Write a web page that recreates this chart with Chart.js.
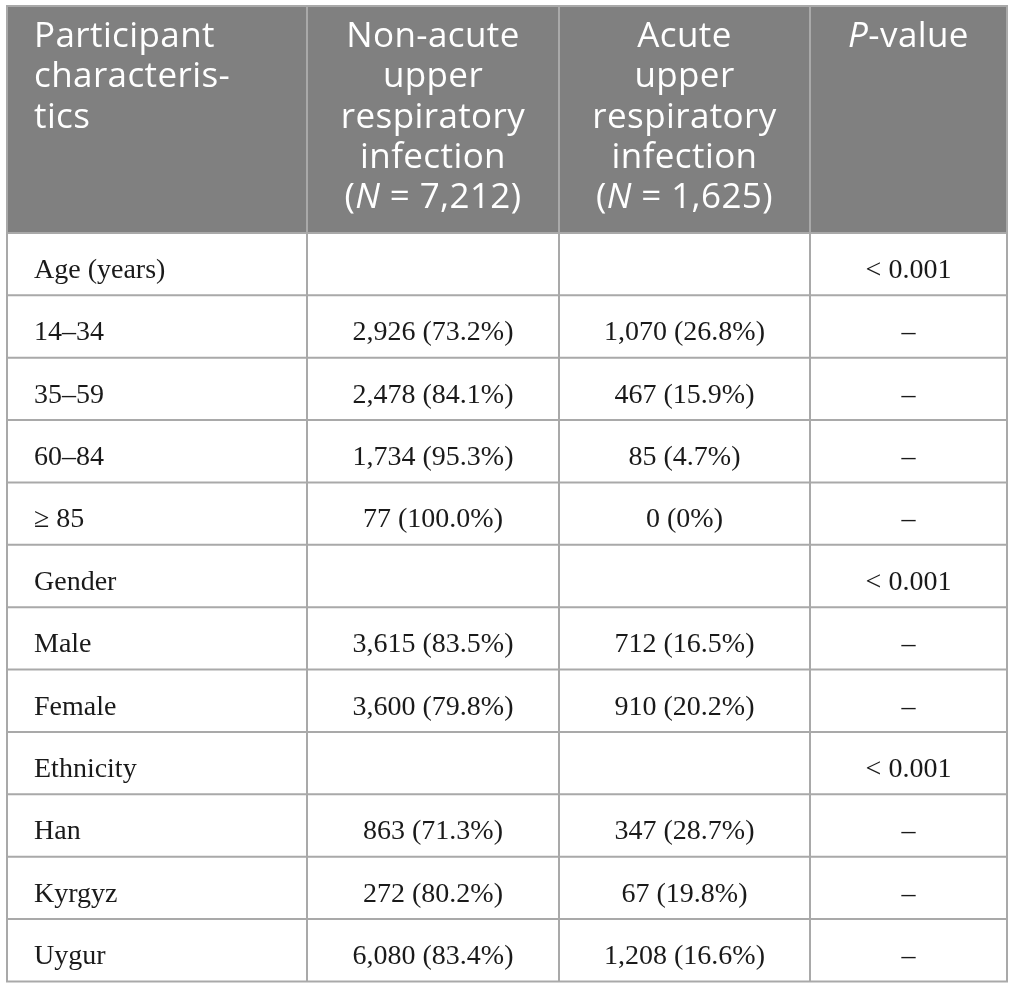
<!DOCTYPE html>
<html>
<head>
<meta charset="utf-8">
<script src="https://cdn.jsdelivr.net/npm/chart.js@4.4.1/dist/chart.umd.min.js"></script>
<style>
  html, body { margin: 0; padding: 0; background: #fff; }
  #wrap { width: 1015px; height: 988px; }
</style>
</head>
<body>
<div id="wrap"><canvas id="table-chart" width="1015" height="988"></canvas></div>
<script>
// table data
const categories = ["Age (years)", "14–34", "35–59", "60–84", "≥ 85", "Gender", "Male", "Female", "Ethnicity", "Han", "Kyrgyz", "Uygur"];
const nonAcuteN   = [null, 2926, 2478, 1734, 77,  null, 3615, 3600, null, 863,  272,  6080];
const nonAcutePct = [null, 73.2, 84.1, 95.3, 100.0, null, 83.5, 79.8, null, 71.3, 80.2, 83.4];
const acuteN      = [null, 1070, 467,  85,   0,   null, 712,  910,  null, 347,  67,   1208];
const acutePct    = [null, 26.8, 15.9, 4.7,  0,   null, 16.5, 20.2, null, 28.7, 19.8, 16.6];
const pValues     = ["< 0.001", "–", "–", "–", "–", "< 0.001", "–", "–", "< 0.001", "–", "–", "–"];
const nonAcuteTotal = 7212;
const acuteTotal = 1625;

// layout (in scale units)
const colEdges = [7, 307, 559, 810, 1007];
const tableTop = 6;
const headerBottom = 233;
const rowH = 62.37;

const fmtNum = v => v.toLocaleString('en-US');
const fmtPct = p => p === 0 ? '0%' : p.toFixed(1) + '%';
const cellText = (n, p) => n === null ? '' : fmtNum(n) + ' (' + fmtPct(p) + ')';

// header lines: each line is a list of [text, italic]
const headers = [
  [[["Participant", false]], [["characteris-", false]], [["tics", false]]],
  [[["Non-acute", false]], [["upper", false]], [["respiratory", false]], [["infection", false]],
   [["(", false], ["N", true], [" = " + fmtNum(nonAcuteTotal) + ")", false]]],
  [[["Acute", false]], [["upper", false]], [["respiratory", false]], [["infection", false]],
   [["(", false], ["N", true], [" = " + fmtNum(acuteTotal) + ")", false]]],
  [[["P", true], ["-value", false]]]
];

const headFont = (it) => (it ? 'italic ' : '') + '35px "Open Sans"';
const bodyFont = '28px "Liberation Serif"';

const tablePlugin = {
  id: 'tableDraw',
  afterDraw(chart) {
    const ctx = chart.ctx;
    const xs = chart.scales.x, ys = chart.scales.y;
    const X = v => xs.getPixelForValue(v);
    const Y = v => ys.getPixelForValue(v);
    const nRows = categories.length;
    const rowEdges = [headerBottom];
    for (let i = 1; i <= nRows; i++) rowEdges.push(headerBottom + i * rowH);
    const left = X(colEdges[0]), right = X(colEdges[colEdges.length - 1]);
    const top = Y(tableTop), bottom = Y(rowEdges[nRows]);

    ctx.save();
    // header background
    ctx.fillStyle = '#808080';
    ctx.fillRect(left, top, right - left, Y(headerBottom) - top);
    ctx.fillStyle = '#ffffff';
    ctx.fillRect(left, Y(headerBottom), right - left, bottom - Y(headerBottom));

    // header text
    ctx.fillStyle = '#ffffff';
    ctx.textBaseline = 'alphabetic';
    ctx.letterSpacing = '0.4px';
    headers.forEach((lines, c) => {
      const x0 = X(colEdges[c]), x1 = X(colEdges[c + 1]);
      lines.forEach((segs, li) => {
        const base = Y(tableTop + 41 + li * 40.3);
        let w = 0;
        segs.forEach(([t, it]) => { ctx.font = headFont(it); w += ctx.measureText(t).width; });
        let x = c === 0 ? X(34) : (x0 + x1) / 2 - w / 2;
        ctx.textAlign = 'left';
        segs.forEach(([t, it]) => {
          ctx.font = headFont(it);
          ctx.fillText(t, x, base);
          x += ctx.measureText(t).width;
        });
      });
    });
    ctx.letterSpacing = '0px';

    // body text
    ctx.fillStyle = '#1a1a1a';
    ctx.font = bodyFont;
    for (let r = 0; r < nRows; r++) {
      const base = Y(rowEdges[r] + 45);
      const cols = [categories[r], cellText(nonAcuteN[r], nonAcutePct[r]), cellText(acuteN[r], acutePct[r]), pValues[r]];
      cols.forEach((t, c) => {
        if (!t) return;
        if (c === 0) {
          ctx.textAlign = 'left';
          ctx.fillText(t, X(34), base);
        } else {
          ctx.textAlign = 'center';
          ctx.fillText(t, (X(colEdges[c]) + X(colEdges[c + 1])) / 2, base);
        }
      });
    }

    // grid lines
    ctx.strokeStyle = '#a9a9a9';
    ctx.lineWidth = 2;
    ctx.beginPath();
    colEdges.forEach(v => { ctx.moveTo(X(v), top); ctx.lineTo(X(v), bottom); });
    ctx.moveTo(left - 1, top); ctx.lineTo(right + 1, top);
    rowEdges.forEach(v => { ctx.moveTo(left - 1, Y(v)); ctx.lineTo(right + 1, Y(v)); });
    ctx.stroke();
    ctx.restore();
  }
};

function build() {
  new Chart(document.getElementById('table-chart'), {
    type: 'scatter',
    data: { datasets: [{ data: [], pointRadius: 0 }] },
    options: {
      responsive: false,
      animation: false,
      devicePixelRatio: 1,
      layout: { padding: 0 },
      plugins: { legend: { display: false }, tooltip: { enabled: false } },
      scales: {
        x: { type: 'linear', min: 0, max: 1015, display: false },
        y: { type: 'linear', min: 0, max: 988, reverse: true, display: false }
      }
    },
    plugins: [tablePlugin]
  });
}

Promise.all([
  document.fonts.load('35px "Open Sans"'),
  document.fonts.load('italic 35px "Open Sans"'),
  document.fonts.load('28px "Liberation Serif"')
]).then(build, build);
</script>
</body>
</html>
